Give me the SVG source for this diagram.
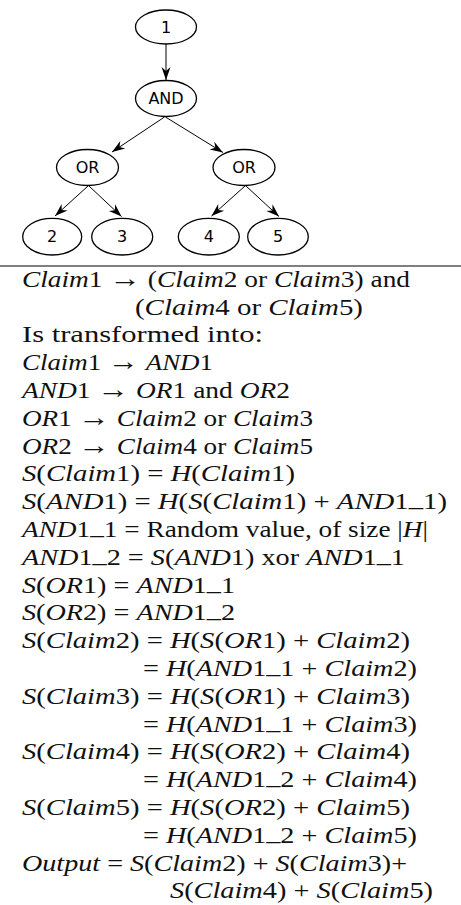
<svg xmlns="http://www.w3.org/2000/svg" width="461" height="905" viewBox="0 0 461 905">
<style>
  .node ellipse { fill: #fff; stroke: #000; stroke-width: 1.3; }
  .node text { font-family: "DejaVu Sans", sans-serif; font-size: 16px; text-anchor: middle; fill: #000; }
  .edge { stroke: #000; stroke-width: 1; fill: none; marker-end: url(#ah); }
  .t { font-family: "Liberation Serif", serif; font-size: 22.5px; fill: #111; }
  .i { font-style: italic; }
  .ar { font-size: 26px; }
</style>
<defs>
  <marker id="ah" markerUnits="userSpaceOnUse" markerWidth="16" markerHeight="12" viewBox="-14 -6 16 12" refX="0" refY="0" orient="auto">
    <path d="M0,0 L-13,-4.5 L-9,0 L-13,4.5 Z" fill="#000"/>
  </marker>
</defs>

<g id="connectors">
  <line class="edge" x1="166" y1="44" x2="166" y2="80"/>
  <line class="edge" x1="164.5" y1="117" x2="112" y2="152"/>
  <line class="edge" x1="165.5" y1="117" x2="223" y2="152.5"/>
  <line class="edge" x1="88" y1="186" x2="55" y2="216"/>
  <line class="edge" x1="89" y1="186" x2="121.5" y2="216.5"/>
  <line class="edge" x1="245" y1="186" x2="211.5" y2="216"/>
  <line class="edge" x1="246" y1="186" x2="279" y2="216.5"/>
</g>

<g id="n1" class="node"><ellipse cx="166" cy="27" rx="30.5" ry="17"/><text x="166" y="32.5">1</text></g>
<g id="nAND" class="node"><ellipse cx="166" cy="98.5" rx="30.5" ry="18"/><text x="166" y="104">AND</text></g>
<g id="nOR1" class="node"><ellipse cx="87.5" cy="167.5" rx="31" ry="18"/><text x="87.5" y="173">OR</text></g>
<g id="nOR2" class="node"><ellipse cx="244" cy="167.5" rx="31" ry="18"/><text x="244" y="173">OR</text></g>
<g id="n2" class="node"><ellipse cx="52.2" cy="236.7" rx="29.5" ry="18.3"/><text x="52.2" y="242.2">2</text></g>
<g id="n3" class="node"><ellipse cx="122.2" cy="236.7" rx="30.5" ry="18.3"/><text x="122.2" y="242.2">3</text></g>
<g id="n4" class="node"><ellipse cx="208.8" cy="236.7" rx="30.5" ry="18.3"/><text x="208.8" y="242.2">4</text></g>
<g id="n5" class="node"><ellipse cx="278" cy="236.7" rx="30.3" ry="18.3"/><text x="278" y="242.2">5</text></g>

<line id="rule" x1="0" y1="266" x2="461" y2="266" stroke="#000" stroke-width="1.2"/>

<g id="text">
  <text class="t" x="22" y="287" textLength="388" lengthAdjust="spacingAndGlyphs"><tspan class="i">Claim</tspan>1 <tspan class="ar">→</tspan> (<tspan class="i">Claim</tspan>2 or <tspan class="i">Claim</tspan>3) and</text>
  <text class="t" x="135" y="314.5" textLength="228" lengthAdjust="spacingAndGlyphs">(<tspan class="i">Claim</tspan>4 or <tspan class="i">Claim</tspan>5)</text>
  <text class="t" x="22" y="342.3" textLength="241" lengthAdjust="spacingAndGlyphs">Is transformed into:</text>
  <text class="t" x="22" y="370" textLength="191" lengthAdjust="spacingAndGlyphs"><tspan class="i">Claim</tspan>1 <tspan class="ar">→</tspan> <tspan class="i">AND</tspan>1</text>
  <text class="t" x="22" y="397.9" textLength="268" lengthAdjust="spacingAndGlyphs"><tspan class="i">AND</tspan>1 <tspan class="ar">→</tspan> <tspan class="i">OR</tspan>1 and <tspan class="i">OR</tspan>2</text>
  <text class="t" x="22" y="425.7" textLength="291" lengthAdjust="spacingAndGlyphs"><tspan class="i">OR</tspan>1 <tspan class="ar">→</tspan> <tspan class="i">Claim</tspan>2 or <tspan class="i">Claim</tspan>3</text>
  <text class="t" x="22" y="453.5" textLength="291" lengthAdjust="spacingAndGlyphs"><tspan class="i">OR</tspan>2 <tspan class="ar">→</tspan> <tspan class="i">Claim</tspan>4 or <tspan class="i">Claim</tspan>5</text>
  <text class="t" x="22" y="481.3" textLength="273" lengthAdjust="spacingAndGlyphs"><tspan class="i">S</tspan>(<tspan class="i">Claim</tspan>1) = <tspan class="i">H</tspan>(<tspan class="i">Claim</tspan>1)</text>
  <text class="t" x="22" y="509.1" textLength="425" lengthAdjust="spacingAndGlyphs"><tspan class="i">S</tspan>(<tspan class="i">AND</tspan>1) = <tspan class="i">H</tspan>(<tspan class="i">S</tspan>(<tspan class="i">Claim</tspan>1) + <tspan class="i">AND</tspan>1<tspan dy="-3">_</tspan><tspan dy="3">1</tspan>)</text>
  <text class="t" x="22" y="536.9" textLength="406" lengthAdjust="spacingAndGlyphs"><tspan class="i">AND</tspan>1<tspan dy="-3">_</tspan><tspan dy="3">1</tspan> = Random value, of size |<tspan class="i">H</tspan>|</text>
  <text class="t" x="22" y="564.7" textLength="383" lengthAdjust="spacingAndGlyphs"><tspan class="i">AND</tspan>1<tspan dy="-3">_</tspan><tspan dy="3">2</tspan> = <tspan class="i">S</tspan>(<tspan class="i">AND</tspan>1) xor <tspan class="i">AND</tspan>1<tspan dy="-3">_</tspan><tspan dy="3">1</tspan></text>
  <text class="t" x="22" y="592.5" textLength="213" lengthAdjust="spacingAndGlyphs"><tspan class="i">S</tspan>(<tspan class="i">OR</tspan>1) = <tspan class="i">AND</tspan>1<tspan dy="-3">_</tspan><tspan dy="3">1</tspan></text>
  <text class="t" x="22" y="620.3" textLength="213" lengthAdjust="spacingAndGlyphs"><tspan class="i">S</tspan>(<tspan class="i">OR</tspan>2) = <tspan class="i">AND</tspan>1<tspan dy="-3">_</tspan><tspan dy="3">2</tspan></text>
  <text class="t" x="22" y="648.1" textLength="388" lengthAdjust="spacingAndGlyphs"><tspan class="i">S</tspan>(<tspan class="i">Claim</tspan>2) = <tspan class="i">H</tspan>(<tspan class="i">S</tspan>(<tspan class="i">OR</tspan>1) + <tspan class="i">Claim</tspan>2)</text>
  <text class="t" x="143" y="675.9" textLength="274" lengthAdjust="spacingAndGlyphs">= <tspan class="i">H</tspan>(<tspan class="i">AND</tspan>1<tspan dy="-3">_</tspan><tspan dy="3">1</tspan> + <tspan class="i">Claim</tspan>2)</text>
  <text class="t" x="22" y="703.7" textLength="388" lengthAdjust="spacingAndGlyphs"><tspan class="i">S</tspan>(<tspan class="i">Claim</tspan>3) = <tspan class="i">H</tspan>(<tspan class="i">S</tspan>(<tspan class="i">OR</tspan>1) + <tspan class="i">Claim</tspan>3)</text>
  <text class="t" x="143" y="731.5" textLength="274" lengthAdjust="spacingAndGlyphs">= <tspan class="i">H</tspan>(<tspan class="i">AND</tspan>1<tspan dy="-3">_</tspan><tspan dy="3">1</tspan> + <tspan class="i">Claim</tspan>3)</text>
  <text class="t" x="22" y="759.3" textLength="388" lengthAdjust="spacingAndGlyphs"><tspan class="i">S</tspan>(<tspan class="i">Claim</tspan>4) = <tspan class="i">H</tspan>(<tspan class="i">S</tspan>(<tspan class="i">OR</tspan>2) + <tspan class="i">Claim</tspan>4)</text>
  <text class="t" x="143" y="787.1" textLength="274" lengthAdjust="spacingAndGlyphs">= <tspan class="i">H</tspan>(<tspan class="i">AND</tspan>1<tspan dy="-3">_</tspan><tspan dy="3">2</tspan> + <tspan class="i">Claim</tspan>4)</text>
  <text class="t" x="22" y="814.9" textLength="388" lengthAdjust="spacingAndGlyphs"><tspan class="i">S</tspan>(<tspan class="i">Claim</tspan>5) = <tspan class="i">H</tspan>(<tspan class="i">S</tspan>(<tspan class="i">OR</tspan>2) + <tspan class="i">Claim</tspan>5)</text>
  <text class="t" x="143" y="842.7" textLength="274" lengthAdjust="spacingAndGlyphs">= <tspan class="i">H</tspan>(<tspan class="i">AND</tspan>1<tspan dy="-3">_</tspan><tspan dy="3">2</tspan> + <tspan class="i">Claim</tspan>5)</text>
  <text class="t" x="22" y="870.5" textLength="385" lengthAdjust="spacingAndGlyphs"><tspan class="i">Output</tspan> = <tspan class="i">S</tspan>(<tspan class="i">Claim</tspan>2) + <tspan class="i">S</tspan>(<tspan class="i">Claim</tspan>3)+</text>
  <text class="t" x="170" y="898.3" textLength="263" lengthAdjust="spacingAndGlyphs"><tspan class="i">S</tspan>(<tspan class="i">Claim</tspan>4) + <tspan class="i">S</tspan>(<tspan class="i">Claim</tspan>5)</text>
</g>
</svg>
